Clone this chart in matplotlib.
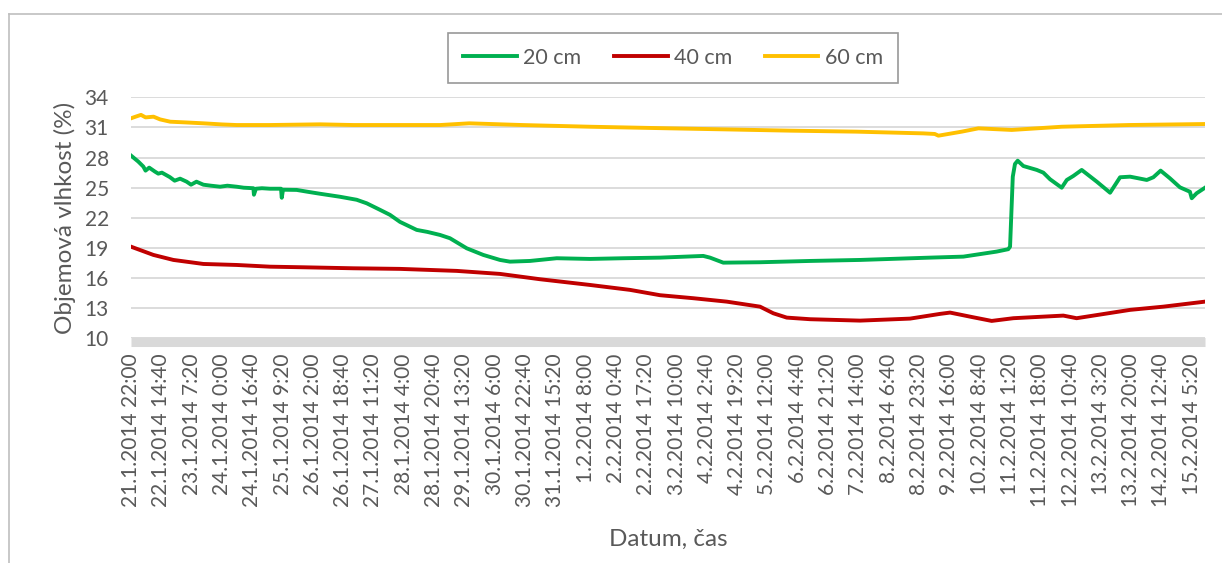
import matplotlib
matplotlib.use('Agg')
import matplotlib.pyplot as plt
from matplotlib.lines import Line2D

plt.rcParams['font.family'] = ['Lato', 'DejaVu Sans']

# ---- data (time in hours since 21.1.2014 22:00) ----
tick_labels = ["21.1.2014 22:00", "22.1.2014 14:40", "23.1.2014 7:20", "24.1.2014 0:00",
               "24.1.2014 16:40", "25.1.2014 9:20", "26.1.2014 2:00", "26.1.2014 18:40",
               "27.1.2014 11:20", "28.1.2014 4:00", "28.1.2014 20:40", "29.1.2014 13:20",
               "30.1.2014 6:00", "30.1.2014 22:40", "31.1.2014 15:20", "1.2.2014 8:00",
               "2.2.2014 0:40", "2.2.2014 17:20", "3.2.2014 10:00", "4.2.2014 2:40",
               "4.2.2014 19:20", "5.2.2014 12:00", "6.2.2014 4:40", "6.2.2014 21:20",
               "7.2.2014 14:00", "8.2.2014 6:40", "8.2.2014 23:20", "9.2.2014 16:00",
               "10.2.2014 8:40", "11.2.2014 1:20", "11.2.2014 18:00", "12.2.2014 10:40",
               "13.2.2014 3:20", "13.2.2014 20:00", "14.2.2014 12:40", "15.2.2014 5:20"]
tick_step_hours = 1000 / 60
x_end_hours = 590.6

y_ticks = [10, 13, 16, 19, 22, 25, 28, 31, 34]

series_names = ["20 cm", "40 cm", "60 cm"]

hours_20 = [0, 2, 4, 6.8, 8, 10, 13.2, 15, 17, 21.4, 24, 27, 30.6, 33, 36, 39.8, 44, 49.0,
            53, 58.1, 62, 67.3, 67.6, 68.7, 72, 76.4, 82.5, 82.9, 83.6, 91.1, 97, 103.9,
            114.9, 124.1, 129.6, 136.9, 142.4, 147.9, 157.1, 163, 169.9, 175.4, 184.6,
            193.7, 202.9, 208.4, 219.4, 234.1, 252.4, 270.7, 290.9, 314.7, 318.4, 325.7,
            345.9, 373.4, 400.9, 439.4, 457.7, 476.0, 482.4, 483.4, 484.9, 486.1, 487.6,
            490.7, 498.1, 501.7, 505.4, 511.8, 514.6, 518.2, 522.8, 531.1, 538.4, 543.9,
            549.4, 553.9, 558.6, 562.2, 566.2, 571.3, 576.8, 582.3, 583.3, 586.0, 590.6]
vals_20 = [28.2, 27.9, 27.6, 27.1, 26.7, 27.0, 26.6, 26.4, 26.5, 26.05, 25.7, 25.9, 25.6,
           25.3, 25.6, 25.3, 25.2, 25.1, 25.2, 25.1, 25.0, 24.95, 24.3, 24.9, 24.95, 24.9,
           24.9, 24.0, 24.8, 24.78, 24.6, 24.4, 24.1, 23.8, 23.45, 22.8, 22.3, 21.6, 20.8,
           20.6, 20.3, 19.97, 18.97, 18.31, 17.81, 17.64, 17.71, 17.98, 17.91, 17.98,
           18.04, 18.21, 18.04, 17.54, 17.58, 17.71, 17.81, 18.04, 18.14, 18.64, 18.88,
           19.13, 26.1, 27.36, 27.69, 27.16, 26.77, 26.5, 25.84, 25.0, 25.77, 26.17,
           26.77, 25.6, 24.5, 26.04, 26.1, 25.94, 25.77, 26.04, 26.7, 25.94, 25.04, 24.6,
           23.95, 24.45, 25.0]

hours_40 = [0, 12.3, 23.3, 39.8, 58.1, 76.4, 94.7, 122.2, 147.9, 179.1, 202.9, 224.9,
            252.4, 274.4, 290.9, 309.2, 327.6, 345.9, 353.2, 360.6, 373.4, 400.9, 428.4,
            444.9, 450.4, 463.2, 473.3, 485.2, 512.7, 520.0, 549.4, 567.7, 590.6]
vals_40 = [19.13, 18.31, 17.81, 17.41, 17.31, 17.14, 17.08, 16.98, 16.92, 16.72, 16.42,
           15.89, 15.32, 14.83, 14.3, 14.0, 13.66, 13.16, 12.5, 12.07, 11.91, 11.77,
           11.97, 12.44, 12.57, 12.1, 11.74, 12.01, 12.27, 12.01, 12.84, 13.16, 13.66]

hours_60 = [0, 3, 5.5, 8, 12.4, 16, 21.6, 30, 39.8, 50, 58.1, 76.4, 104, 122.2, 142.4,
            170, 186.0, 215, 252.4, 296.4, 325.7, 362.3, 398.9, 435.6, 442.0, 444, 456.8,
            466.0, 484.3, 511.8, 548.5, 590.6]
vals_60 = [31.91, 32.1, 32.25, 32.0, 32.07, 31.8, 31.57, 31.5, 31.41, 31.3, 31.24, 31.24,
           31.31, 31.24, 31.24, 31.24, 31.41, 31.24, 31.07, 30.91, 30.81, 30.68, 30.58,
           30.41, 30.35, 30.18, 30.58, 30.91, 30.75, 31.07, 31.24, 31.34]

colors = ["#00B050", "#C00000", "#FFC000"]
text_color = "#595959"

# ---- figure ----
W, H = 1222, 563
fig = plt.figure(figsize=(W / 100, H / 100), dpi=100)
ax_left, ax_right, ax_top, ax_bottom = 131, 1205, 97.3, 338.4
ax = fig.add_axes([ax_left / W, 1 - ax_bottom / H, (ax_right - ax_left) / W,
                   (ax_bottom - ax_top) / H])

for h, v, c, name in zip([hours_20, hours_40, hours_60], [vals_20, vals_40, vals_60],
                         colors, series_names):
    ax.plot(h, v, color=c, lw=2.8, label=name, solid_joinstyle='round', zorder=3)

ax.set_xlim(0, x_end_hours)
ax.set_ylim(10, 34)
ax.set_yticks(y_ticks)
ax.set_xticks([i * tick_step_hours for i in range(len(tick_labels))])
ax.set_xticklabels(tick_labels, rotation=90, ha='center', va='top')
ax.tick_params(axis='both', length=0, colors=text_color, labelsize=15)
ax.tick_params(axis='y', pad=16)
ax.tick_params(axis='x', pad=11)
for s in ax.spines.values():
    s.set_visible(False)
ax.grid(axis='y', color='#D9D9D9', lw=1.3, zorder=0)
ax.axhline(9.6, color='#D9D9D9', lw=6.5, clip_on=False, solid_capstyle='butt', zorder=2)

ax.set_ylabel("Objemová vlhkost (%)", color=text_color, fontsize=17.5, labelpad=6)
ax.set_xlabel("Datum, čas", color=text_color, fontsize=17.5)
ax.xaxis.set_label_coords(0.5, -0.79)

leg = fig.legend(loc='center', bbox_to_anchor=(673 / W, 1 - 58 / H), ncol=3,
                 fontsize=15.5, frameon=True, fancybox=False, handlelength=2.5,
                 columnspacing=1.5, handletextpad=0.3, borderpad=0.7, borderaxespad=0)
leg.get_frame().set_edgecolor('#7F7F7F')
leg.get_frame().set_linewidth(1.2)
for t in leg.get_texts():
    t.set_color(text_color)

# chart area border (left and top)
fig.add_artist(Line2D([9 / W, 9 / W], [0, 1 - 14 / H], transform=fig.transFigure,
                      color='#BFBFBF', lw=1.2))
fig.add_artist(Line2D([9 / W, 1], [1 - 14 / H, 1 - 14 / H], transform=fig.transFigure,
                      color='#BFBFBF', lw=1.2))

fig.savefig("out.png", dpi=100)
